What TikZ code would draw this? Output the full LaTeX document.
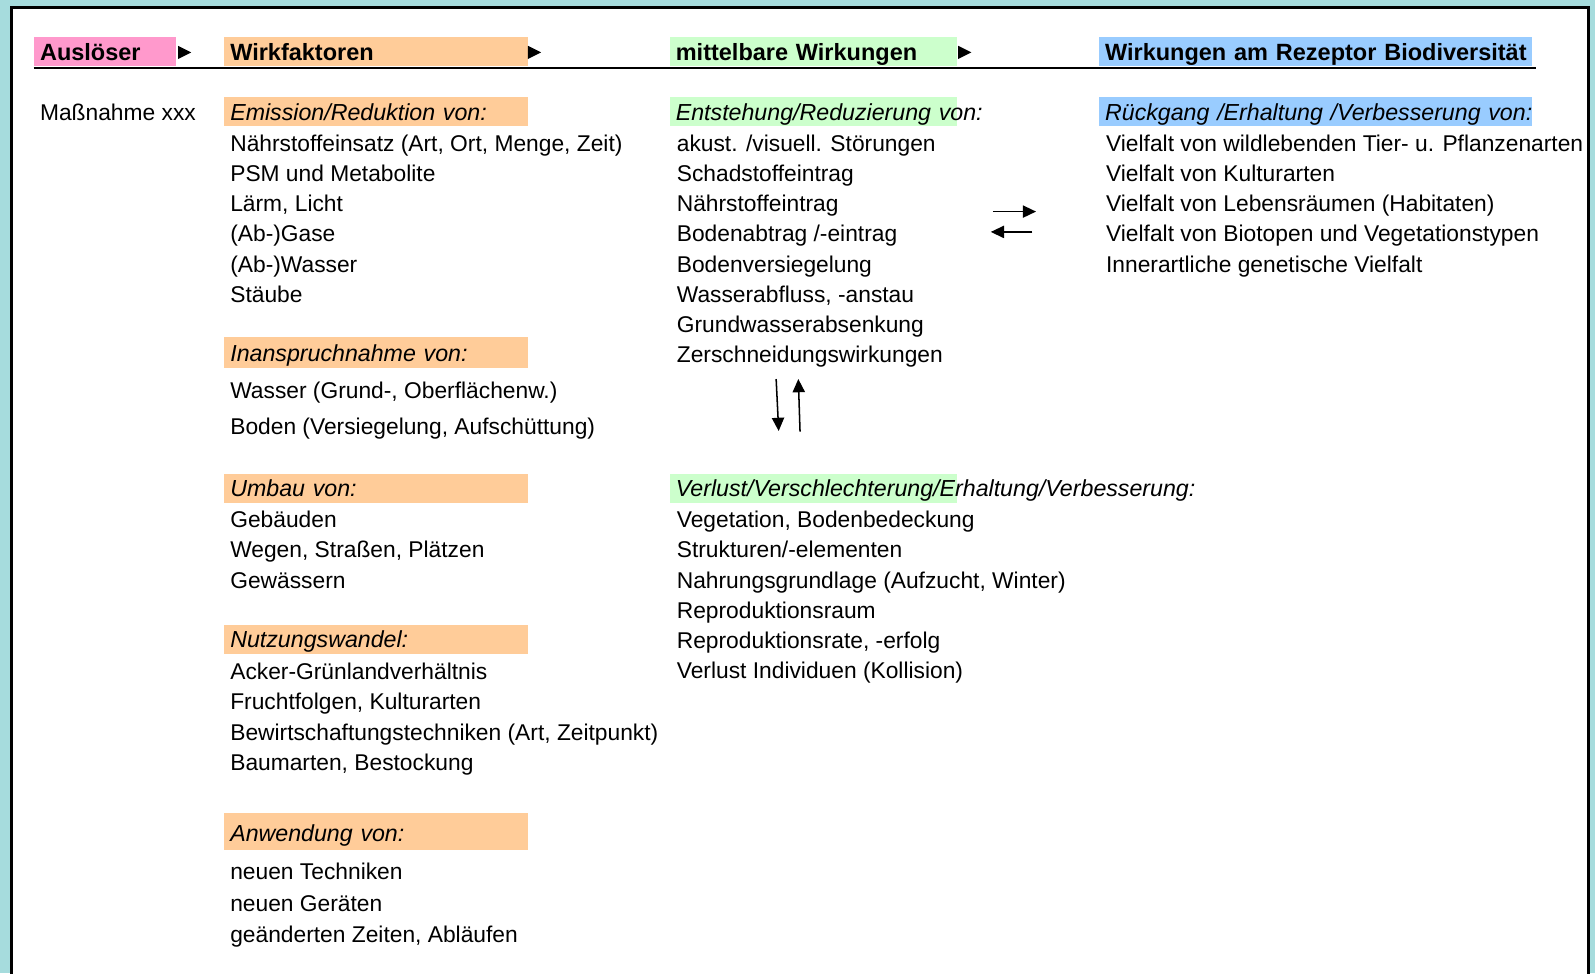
\documentclass[tikz,border=0pt]{standalone}
\usepackage{fontspec}
\setmainfont{Liberation Sans}
\usetikzlibrary{arrows.meta}
\definecolor{tuerkis}{RGB}{166,220,221}
\definecolor{rosa}{HTML}{FF99CC}
\definecolor{apricot}{HTML}{FFCC99}
\definecolor{hellgruen}{HTML}{CCFFCC}
\definecolor{hellblau}{HTML}{99CCFF}

\begin{document}
\begin{tikzpicture}[
	x={(0.5pt,0pt)}, y={(0pt,-0.5pt)},
	kopf/.style={anchor=south west, align=left, inner xsep=3pt, inner ysep=0pt, minimum height=14pt, text height=11.5pt, text depth=2.5pt, font=\fontsize{11.55}{14.85}\selectfont\bfseries},
	rubrik/.style={anchor=south west, align=left, inner xsep=3pt, inner ysep=0pt, minimum height=14.25pt, text height=11.25pt, text depth=3pt, font=\fontsize{11.4}{14.85}\selectfont\itshape},
	eintrag/.style={anchor=base west, inner sep=0pt, font=\fontsize{11.2}{14.85}\selectfont},
	pfeil/.style={-{Triangle[length=6.5pt,width=6pt]}, line width=0.75pt},
	rahmen/.style={line width=1.4pt}
]
\useasboundingbox (0,0) rectangle (1568,957);

% Hintergrund und Rahmen
\fill[tuerkis] (0,0) rectangle (1568,957);
\fill[white] (11.3,7) rectangle (1562,960);
\draw[rahmen] (11.3,962) -- (11.3,7) -- (1562,7) -- (1562,962);

% Kopfzeile
\node[kopf, fill=rosa, text width=64pt] (ausl) at (33,65) {Auslöser};
\node[kopf, fill=apricot, text width=143.5pt] (wirk) at (220,65) {Wirkfaktoren};
\node[kopf, fill=hellgruen, text width=135.25pt] (mittel) at (658,65) {mittelbare Wirkungen};
\node[kopf, fill=hellblau, text width=207pt] (rezeptor) at (1080,65) {\mbox{Wirkungen am Rezeptor Biodiversität}};
\draw[line width=1pt] (33,66.5) -- (1510,66.5);
\fill (175,45) -- (188,51.5) -- (175,58) -- cycle;
\fill (519,45) -- (532,51.5) -- (519,58) -- cycle;
\fill (942,45) -- (955,51.5) -- (942,58) -- cycle;

\node[eintrag] (massnahme) at (39,118.5) {Maßnahme xxx};

% Spalte Wirkfaktoren
\node[rubrik, fill=apricot, text width=143.5pt] (emission) at (220,124.5) {Emission/Reduktion von:};
\node[eintrag] (em1) at (226,148.5) {Nährstoffeinsatz (Art, Ort, Menge, Zeit)};
\node[eintrag] (em2) at (226,178.5) {PSM und Metabolite};
\node[eintrag] (em3) at (226,208) {Lärm, Licht};
\node[eintrag] (em4) at (226,237.5) {(Ab-)Gase};
\node[eintrag] (em5) at (226,267.5) {(Ab-)Wasser};
\node[eintrag] (em6) at (226,297.5) {Stäube};

\node[rubrik, fill=apricot, text width=143.5pt, minimum height=15.5pt, text height=11.9pt, text depth=3.6pt] (inanspruch) at (220,362.5) {Inanspruchnahme von:};
\node[eintrag] (in1) at (226,391.5) {Wasser (Grund-, Oberflächenw.)};
\node[eintrag] (in2) at (226,427.5) {Boden (Versiegelung, Aufschüttung)};

\node[rubrik, fill=apricot, text width=143.5pt] (umbau) at (220,494.5) {Umbau von:};
\node[eintrag] (um1) at (226,518.5) {Gebäuden};
\node[eintrag] (um2) at (226,548.5) {Wegen, Straßen, Plätzen};
\node[eintrag] (um3) at (226,578.5) {Gewässern};

\node[rubrik, fill=apricot, text width=143.5pt] (nutzung) at (220,643) {Nutzungswandel:};
\node[eintrag] (nu1) at (226,668) {Acker-Grünlandverhältnis};
\node[eintrag] (nu2) at (226,697.5) {Fruchtfolgen, Kulturarten};
\node[eintrag] (nu3) at (226,727.5) {Bewirtschaftungstechniken (Art, Zeitpunkt)};
\node[eintrag] (nu4) at (226,757) {Baumarten, Bestockung};

\node[rubrik, fill=apricot, text width=143.5pt, minimum height=18.25pt, text height=14pt, text depth=4.25pt] (anwendung) at (220,836) {Anwendung von:};
\node[eintrag] (an1) at (226,865) {neuen Techniken};
\node[eintrag] (an2) at (226,896.5) {neuen Geräten};
\node[eintrag] (an3) at (226,926.5) {geänderten Zeiten, Abläufen};

% Spalte mittelbare Wirkungen
\node[rubrik, fill=hellgruen, text width=135.25pt] (entstehung) at (658,124.5) {\mbox{Entstehung/Reduzierung von:}};
\node[eintrag] (en1) at (665,148.5) {akust. /visuell. Störungen};
\node[eintrag] (en2) at (665,178.5) {Schadstoffeintrag};
\node[eintrag] (en3) at (665,208) {Nährstoffeintrag};
\node[eintrag] (en4) at (665,237.5) {Bodenabtrag /-eintrag};
\node[eintrag] (en5) at (665,267.5) {Bodenversiegelung};
\node[eintrag] (en6) at (665,297.5) {Wasserabfluss, -anstau};
\node[eintrag] (en7) at (665,327) {Grundwasserabsenkung};
\node[eintrag] (en8) at (665,356.5) {Zerschneidungswirkungen};

\node[rubrik, fill=hellgruen, text width=135.25pt] (verlust) at (658,494.5) {\mbox{Verlust/Verschlechterung/Erhaltung/Verbesserung:}};
\node[eintrag] (ve1) at (665,518.5) {Vegetation, Bodenbedeckung};
\node[eintrag] (ve2) at (665,548.5) {Strukturen/-elementen};
\node[eintrag] (ve3) at (665,578.5) {Nahrungsgrundlage (Aufzucht, Winter)};
\node[eintrag] (ve4) at (665,608) {Reproduktionsraum};
\node[eintrag] (ve5) at (665,637.5) {Reproduktionsrate, -erfolg};
\node[eintrag] (ve6) at (665,667.5) {Verlust Individuen (Kollision)};

% Spalte Rezeptor
\node[rubrik, fill=hellblau, text width=207pt] (rueckgang) at (1080,124.5) {\mbox{Rückgang /Erhaltung /Verbesserung von:}};
\node[eintrag] (rg1) at (1087,148.5) {Vielfalt von wildlebenden Tier- u. Pflanzenarten};
\node[eintrag] (rg2) at (1087,178.5) {Vielfalt von Kulturarten};
\node[eintrag] (rg3) at (1087,208) {Vielfalt von Lebensräumen (Habitaten)};
\node[eintrag] (rg4) at (1087,237.5) {Vielfalt von Biotopen und Vegetationstypen};
\node[eintrag] (rg5) at (1087,267.5) {Innerartliche genetische Vielfalt};

% Wechselpfeile
\coordinate (hin_a) at (976,208);
\coordinate (hin_b) at (1018.5,208);
\coordinate (rueck_a) at (1015,228);
\coordinate (rueck_b) at (974,228);
\coordinate (ab_a) at (763,372.6);
\coordinate (ab_b) at (765.5,423.7);
\coordinate (auf_a) at (786.5,424.4);
\coordinate (auf_b) at (784.8,372.6);
\draw[pfeil] (hin_a) -- (hin_b);
\draw[pfeil] (rueck_a) -- (rueck_b);
\draw[pfeil] (ab_a) -- (ab_b);
\draw[pfeil] (auf_a) -- (auf_b);
\end{tikzpicture}
\end{document}
